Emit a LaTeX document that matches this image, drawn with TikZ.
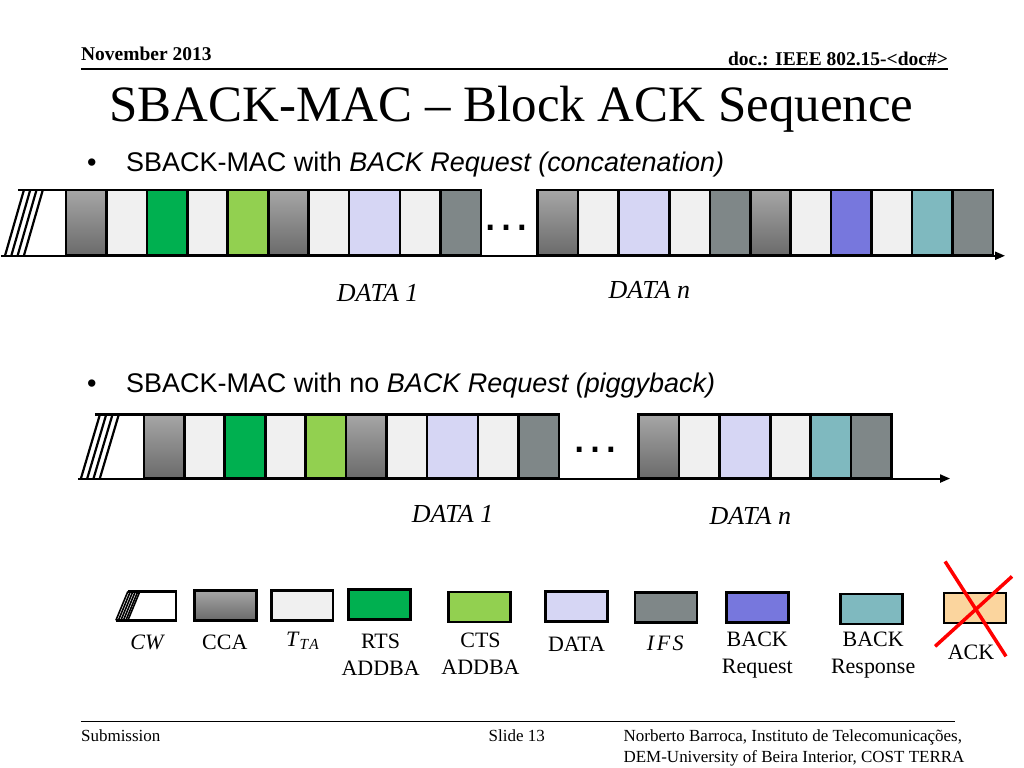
\documentclass[tikz,border=0pt]{standalone}
\usepackage{fontspec}
\setmainfont{Liberation Serif}
\newfontfamily\arialfont{Liberation Sans}
\usepackage{xcolor}
\usepackage{tikz}
\usetikzlibrary{arrows.meta, positioning}

\definecolor{ccatop}{RGB}{166,166,166}
\definecolor{ccabot}{RGB}{106,106,106}
\definecolor{ttafill}{RGB}{240,240,240}
\definecolor{rtsfill}{RGB}{0,176,80}
\definecolor{ctsfill}{RGB}{146,208,80}
\definecolor{datafill}{RGB}{214,214,244}
\definecolor{ifsfill}{RGB}{127,135,136}
\definecolor{breqfill}{RGB}{119,119,221}
\definecolor{brespfill}{RGB}{127,185,191}
\definecolor{ackfill}{RGB}{251,213,158}

\begin{document}
\begin{tikzpicture}[x=1pt, y=-1pt,
    slot/.style={draw, line width=2.6pt, minimum width=40.5pt, minimum height=66pt, inner sep=0pt, outer sep=0pt, anchor=west},
    legbox/.style={draw, line width=2.6pt, minimum width=62pt, minimum height=30pt, inner sep=0pt, outer sep=0pt},
    cca/.style={top color=ccatop, bottom color=ccabot},
    tta/.style={fill=ttafill},
    rts/.style={fill=rtsfill},
    cts/.style={fill=ctsfill},
    dat/.style={fill=datafill},
    datslot/.style={fill=datafill, minimum width=51pt},
    ifs/.style={fill=ifsfill},
    breq/.style={fill=breqfill},
    bresp/.style={fill=brespfill},
    ack/.style={fill=ackfill},
    seqlabel/.style={font=\fontsize{26}{30}\selectfont\itshape, anchor=base, inner sep=0pt},
    keylabel/.style={font=\fontsize{22}{27}\selectfont, align=center, anchor=base, inner sep=0pt},
    gapdots/.style={anchor=base, inner sep=0pt, font=\arialfont\fontsize{50}{54}\selectfont},
    timeaxis/.style={line width=2pt, -{Triangle[length=10pt, width=8pt]}},
    hatch/.style={line width=2.2pt},
    redcross/.style={red, line width=3.5pt},
]
\fill[white] (0,0) rectangle (1024,768);

% Header
\node[anchor=base west, inner sep=0pt, font=\fontsize{19.5}{22}\selectfont\bfseries] (date) at (80,61) {November 2013};
\node[anchor=base east, inner sep=0pt, font=\fontsize{19.5}{22}\selectfont\bfseries] (docid) at (948,66) {doc.: IEEE 802.15-<doc\#>};
\draw[line width=2pt] (80,69) -- (948,69);
\node[anchor=base, inner sep=0pt, font=\fontsize{51}{55}\selectfont] (title) at (511,122) {SBACK-MAC -- Block ACK Sequence};

% Bullets
\node[anchor=base west, inner sep=0pt, font=\arialfont\fontsize{27}{30}\selectfont] (dot1) at (86,172) {•};
\node[anchor=base west, inner sep=0pt, font=\arialfont\fontsize{27}{30}\selectfont] (bullet1) at (125,172) {SBACK-MAC with \textit{BACK Request (concatenation)}};
\node[anchor=base west, inner sep=0pt, font=\arialfont\fontsize{27}{30}\selectfont] (dot2) at (86,393) {•};
\node[anchor=base west, inner sep=0pt, font=\arialfont\fontsize{27}{30}\selectfont] (bullet2) at (125,393) {SBACK-MAC with no \textit{BACK Request (piggyback)}};

% Sequence 1 (concatenation)
\coordinate (axis1s) at (0,256);
\coordinate (axis1e) at (1005,256);
\draw[timeaxis] (axis1s) -- (axis1e);
\draw[line width=2.6pt] (17,190) -- (65,190);
\foreach \d in {0,6.3,12.6,18.9}
    \draw[hatch] ({23+\d},190) -- ({4+\d},256);
\node[slot,cca] (sa1) at (65,223) {};
\foreach \k [count=\i from 2, remember=\i as \j (initially 1)] in {tta,rts,tta,cts,cca,tta,datslot,tta,ifs}
    \node[slot,\k] (sa\i) at (sa\j.east) {};
\node[slot,cca] (sb1) at (537,223) {};
\foreach \k [count=\i from 2, remember=\i as \j (initially 1)] in {tta,datslot,tta,ifs,cca,tta,breq,tta,bresp,ifs}
    \node[slot,\k] (sb\i) at (sb\j.east) {};
\node[gapdots] (gap1) at (506,231) {…};
\node[seqlabel] (data1a) at (377,302) {DATA 1};
\node[seqlabel] (datana) at (649,299) {DATA n};

% Sequence 2 (piggyback)
\coordinate (axis2s) at (77,479);
\coordinate (axis2e) at (950,479);
\draw[timeaxis] (axis2s) -- (axis2e);
\draw[line width=2.6pt] (94,415) -- (143,415);
\foreach \d in {0,6.3,12.6,18.9}
    \draw[hatch] ({99+\d},415) -- ({80+\d},479);
\node[slot,cca,minimum height=64pt] (pa1) at (143,447) {};
\foreach \k [count=\i from 2, remember=\i as \j (initially 1)] in {tta,rts,tta,cts,cca,tta,datslot,tta,ifs}
    \node[slot,\k,minimum height=64pt] (pa\i) at (pa\j.east) {};
\node[slot,cca,minimum height=64pt] (pb1) at (638,447) {};
\foreach \k [count=\i from 2, remember=\i as \j (initially 1)] in {tta,datslot,tta,bresp,ifs}
    \node[slot,\k,minimum height=64pt] (pb\i) at (pb\j.east) {};
\node[gapdots] (gap2) at (595,453) {…};
\node[seqlabel] (data1b) at (452,523) {DATA 1};
\node[seqlabel] (datanb) at (750,525) {DATA n};

% Legend
\draw[line width=2.2pt] (127,592) -- (175,592) -- (175,621) -- (115,621);
\foreach \d in {0,2.5,5,7.5,10,12}
    \draw[line width=1.6pt] ({127+\d},592) -- ({115+\d},621);
\node[legbox,cca] (kcca) at (224.5,606) {};
\node[legbox,tta] (ktta) at (301.5,606) {};
\node[legbox,rts] (krts) at (379,605) {};
\node[legbox,cts] (kcts) at (479,607.5) {};
\node[legbox,dat] (kdat) at (576,607) {};
\node[legbox,ifs] (kifs) at (665.5,608) {};
\node[legbox,breq] (kbreq) at (757,608) {};
\node[legbox,bresp] (kbresp) at (871.5,609.5) {};
\node[legbox,ack] (kack) at (975,608.5) {};

\node[keylabel, font=\fontsize{22}{27}\selectfont\itshape] (tcw) at (146,650) {CW};
\node[keylabel] (tcca) at (224,650) {CCA};
\node[keylabel] (ttta) at (302,647) {\textit{T}\textsubscript{\textit{T\kern1pt A}}};
\node[keylabel, anchor=north] (trts) at (380,634.4) {RTS\\ADDBA};
\node[keylabel, anchor=north] (tcts) at (480,633.4) {CTS\\ADDBA};
\node[keylabel] (tdat) at (576,652) {DATA};
\node[keylabel] (tifs) at (665,651) {\textit{I\kern2.5pt F\kern2.5pt S}};
\node[keylabel, anchor=north] (tbreq) at (757,632.4) {BACK\\Request};
\node[keylabel, anchor=north] (tbresp) at (873,632.4) {BACK\\Response};
\node[keylabel] (tack) at (971,660) {ACK};
\draw[redcross] (945,562) -- (1006,657);
\draw[redcross] (1012,577) -- (935,647);

% Footer
\draw[line width=1.5pt] (80,722) -- (955,722);
\node[anchor=base west, inner sep=0pt, font=\fontsize{17}{21}\selectfont] (submission) at (80,742) {Submission};
\node[anchor=base west, inner sep=0pt, font=\fontsize{17}{21}\selectfont] (slideno) at (488,742) {Slide 13};
\node[anchor=north west, inner sep=0pt, align=left, font=\fontsize{17}{21}\selectfont] (author) at (623,730.5) {Norberto Barroca, Instituto de Telecomunicações,\\DEM-University of Beira Interior, COST TERRA};
\end{tikzpicture}
\end{document}
